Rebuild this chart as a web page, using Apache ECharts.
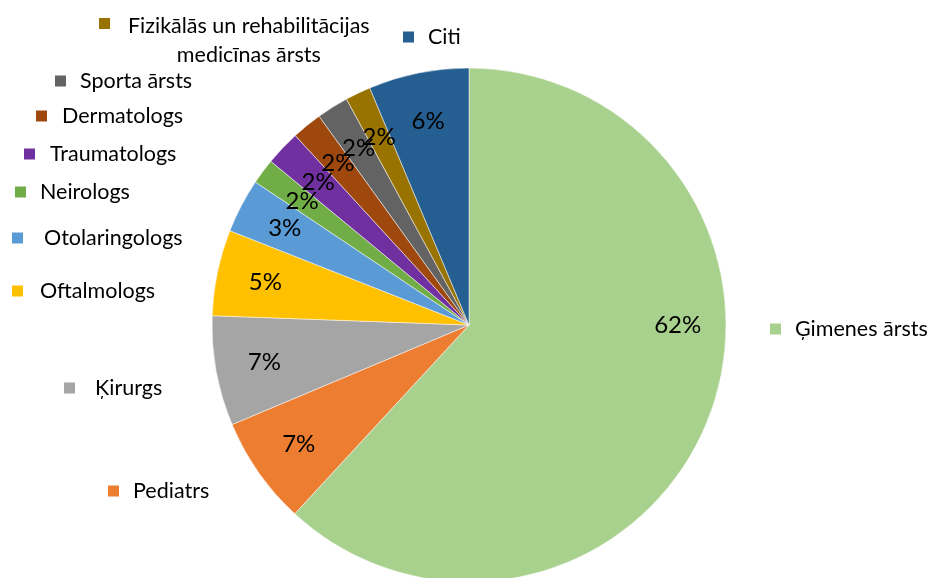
<!DOCTYPE html>
<html>
<head>
<meta charset="utf-8">
<style>
  html, body { margin: 0; padding: 0; background: #fff; }
  #main { width: 932px; height: 578px; }
</style>
<script src="https://cdn.jsdelivr.net/npm/echarts@6/dist/echarts.min.js"></script>
</head>
<body>
<div id="main"></div>
<script>
// specialitātes pulksteņrādītāja virzienā, sākot no augšas
var names = ['Ģimenes ārsts', 'Pediatrs', 'Ķirurgs', 'Oftalmologs', 'Otolaringologs', 'Neirologs',
    'Traumatologs', 'Dermatologs', 'Sporta ārsts', 'Fizikālās un rehabilitācijas medicīnas ārsts', 'Citi'];
// daļa, %
var shares = [61.8, 6.8, 6.9, 5.4, 3.4, 1.6, 2.2, 1.9, 2.0, 1.6, 6.3];
var colors = ['#A9D18E', '#ED7D31', '#A5A5A5', '#FFC000', '#5B9BD5', '#70AD47',
    '#7030A0', '#9E480E', '#636363', '#997300', '#255E91'];

// leģendas novietojums: x, y, atstarpe līdz tekstam
var legendPos = [[768, 318, 8], [106, 480, 8], [62, 377, 14], [10, 280, 11], [10, 227, 15], [13, 181, 8],
    [22, 143, 9], [34, 105, 9], [53, 70, 8], [97, 17, 12], [401, 26, 8]];

var myChart = echarts.init(document.getElementById('main'));

var pieData = names.map(function (n, i) {
    return {name: n, value: shares[i]};
});

var legends = names.map(function (n, i) {
    var p = legendPos[i];
    var two = n.length > 30;
    return {
        data: [n],
        left: p[0],
        top: two ? p[1] - 40 : p[1],
        padding: 0,
        icon: 'rect',
        itemWidth: 13,
        itemHeight: 13,
        selectedMode: false,
        formatter: two ? function (s) {
            var w = s.split(' ');
            return '{a|' + w.slice(0, 3).join(' ') + '}\n{a|' + w.slice(3).join(' ') + '}';
        } : '{name}',
        textStyle: {
            fontFamily: 'Lato',
            fontSize: 21.5,
            color: '#000',
            lineHeight: 13,
            padding: two ? [35, 0, 0, p[2]] : [0, 0, 0, p[2]],
            rich: {
                a: {fontFamily: 'Lato', fontSize: 21.5, color: '#000', lineHeight: 29, align: 'center'}
            }
        }
    };
});

var option = {
    animation: false,
    color: colors,
    legend: legends,
    series: [
        {
            type: 'pie',
            radius: [0, 257],
            center: [469, 325],
            startAngle: 90,
            label: {show: false},
            labelLine: {show: false},
            itemStyle: {borderColor: '#fff', borderWidth: 0.5},
            emphasis: {disabled: true},
            data: pieData
        },
        {
            // tikai procentu uzraksti
            type: 'pie',
            radius: [178, 232],
            center: [469, 325],
            startAngle: 90,
            silent: true,
            itemStyle: {color: 'transparent'},
            labelLayout: function (params) {
                // lielākās daļas uzraksts pārbīdīts pa labi (kā Excel "best fit")
                if (params.dataIndex === 0) return {dx: 15, dy: -75, hideOverlap: false};
                return {hideOverlap: false};
            },
            label: {
                show: true,
                position: 'inside',
                fontFamily: 'Lato',
                fontSize: 24,
                color: '#000',
                formatter: function (p) {
                    return Math.round(p.percent) + '%';
                }
            },
            labelLine: {show: false},
            emphasis: {disabled: true},
            data: pieData
        }
    ]
};
myChart.setOption(option);
</script>
</body>
</html>
